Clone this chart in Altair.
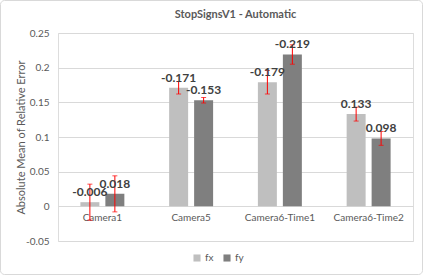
import altair as alt
import pandas as pd

categories = ["Camera1", "Camera5", "Camera6-Time1", "Camera6-Time2"]
fx_values = [0.006, 0.171, 0.179, 0.133]
fy_values = [0.018, 0.153, 0.219, 0.098]
fx_labels = ["-0.006", "-0.171", "-0.179", "0.133"]
fy_labels = ["0.018", "-0.153", "-0.219", "0.098"]
fx_err = [0.026, 0.009, 0.017, 0.010]
fy_err = [0.026, 0.004, 0.014, 0.010]
y_ticks = [-0.05, 0, 0.05, 0.1, 0.15, 0.2, 0.25]

rows = []
for i, c in enumerate(categories):
    rows.append({"cat": c, "series": "fx", "value": fx_values[i], "label": fx_labels[i],
                 "lo": fx_values[i] - fx_err[i], "hi": fx_values[i] + fx_err[i]})
    rows.append({"cat": c, "series": "fy", "value": fy_values[i], "label": fy_labels[i],
                 "lo": fy_values[i] - fy_err[i], "hi": fy_values[i] + fy_err[i]})
df = pd.DataFrame(rows)

FONT = "Lato"
GREY = "#595959"

x = alt.X("cat:N", sort=categories, title=None,
          scale=alt.Scale(paddingInner=0.437, paddingOuter=0.2185),
          axis=alt.Axis(labelAngle=0, domain=False, ticks=False, offset=-34.7,
                        labelPadding=6, labelFontSize=10, labelColor=GREY, labelFont=FONT))
xo = alt.XOffset("series:N", scale=alt.Scale(paddingInner=0.24, paddingOuter=0.12))
yscale = alt.Scale(domain=[-0.05, 0.25], nice=False, zero=False)
yaxis = alt.Axis(values=y_ticks, labelExpr="'' + datum.value", domain=False, ticks=False,
                 labelOverlap=False, gridColor="#d9d9d9", labelFontSize=10,
                 labelColor=GREY, labelFont=FONT,
                 labelPadding=9, titleFont=FONT, titleFontSize=11, titleColor=GREY,
                 titleFontWeight="normal", titleX=-32, titleY=104)
YT = "Absolute Mean of Relative Error"


def Y(field):
    return alt.Y(field, scale=yscale, axis=yaxis, title=YT)


base = alt.Chart(df)

bars = base.mark_bar().encode(
    x=x, xOffset=xo,
    y=Y("value:Q"),
    y2=alt.datum(0),
    color=alt.Color("series:N", scale=alt.Scale(domain=["fx", "fy"], range=["#bfbfbf", "#7f7f7f"]),
                    legend=alt.Legend(title=None, orient="none", legendX=134, legendY=220,
                                      direction="horizontal", symbolType="square", symbolSize=50,
                                      symbolStrokeWidth=0, labelFont=FONT, labelFontSize=10,
                                      labelColor=GREY, columnPadding=8, labelOffset=3)),
)

rules = base.mark_rule(color="#ff0000", strokeWidth=1).encode(
    x=x, xOffset=xo, y=Y("lo:Q"), y2="hi:Q")
cap_lo = base.mark_tick(color="#ff0000", thickness=1, size=5).encode(
    x=x, xOffset=xo, y=Y("lo:Q"))
cap_hi = base.mark_tick(color="#ff0000", thickness=1, size=5).encode(
    x=x, xOffset=xo, y=Y("hi:Q"))

text = base.mark_text(font=FONT, fontSize=12, fontWeight="bold", color="#404040", dy=-10).encode(
    x=x, xOffset=xo, y=Y("value:Q"), text="label:N")

frame = alt.Chart(pd.DataFrame({"a": [0]})).mark_rect(
    filled=False, stroke="#d9d9d9", strokeWidth=1, cornerRadius=4).encode(
    x=alt.value(-57.5), x2=alt.value(364.5), y=alt.value(-32.5), y2=alt.value(241.5))

chart = alt.layer(frame, bars, rules, cap_lo, cap_hi, text).properties(
    width=355, height=208,
    autosize=alt.AutoSizeParams(type="none"),
    padding={"left": 58, "top": 33, "right": 10, "bottom": 34},
    title=alt.TitleParams("StopSignsV1 - Automatic", font=FONT, fontSize=11, fontWeight="bold",
                          color=GREY, anchor="middle", offset=-20),
).configure_view(stroke=None).configure(background="white")

chart.save("out.html", embed_options={"renderer": "svg", "actions": False})
